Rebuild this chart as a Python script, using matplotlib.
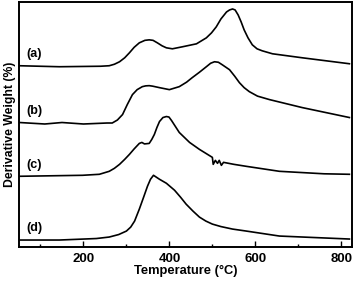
import matplotlib
matplotlib.use("Agg")
import matplotlib.pyplot as plt
from matplotlib.ticker import MultipleLocator

# Temperature (°C) and offset derivative weight (arbitrary units) for each trace
temp_a = [51, 144, 240, 260, 272, 284, 296, 307, 318, 330, 343, 353, 362, 372, 383, 393, 407, 430, 463, 486,
          498, 509, 520, 533, 540, 547, 553, 560, 567, 574, 583, 593, 604, 616, 640, 709, 819]
val_a  = [182, 181, 181.5, 182, 183.5, 186, 190, 195, 200.5, 205, 207.5, 208, 207.5, 205, 202, 200, 199, 201, 204, 210,
          215, 221, 229, 236, 238, 239, 238, 233, 226, 218, 210, 203, 199, 197, 194, 190, 184]

temp_b = [51, 110, 150, 200, 255, 267, 279, 291, 302, 314, 325, 337, 345, 353, 361, 377, 400, 423, 440, 453, 470,
          486, 496, 505, 514, 523, 540, 552, 563, 574, 586, 605, 633, 709, 819]
val_b  = [125, 123.5, 125, 123.5, 124.5, 124.5, 127.5, 133, 143, 153, 158, 161, 161.8, 162, 161.5, 160, 158, 161, 165.5, 170, 175.5,
          181, 184.5, 186, 185.5, 183, 178, 171.5, 165, 160, 156, 151.5, 148, 140, 130]

temp_c = [51, 198, 237, 260, 272, 284, 296, 307, 318, 330, 336, 342, 353, 359, 365, 371, 377, 385, 393, 399, 405, 414, 423, 447, 470, 500,
          502, 507, 512, 516, 521, 526, 550, 579, 656, 760, 819]
val_c  = [71, 72, 73, 76, 79, 83, 88, 93, 98.5, 104, 105, 103.5, 104, 108, 113, 120, 126, 130, 131, 130.5, 127, 121, 115, 105, 98, 90,
          83, 87, 84, 87, 82, 85, 83, 81, 76, 73.5, 73]

temp_d = [51, 144, 230, 260, 282, 300, 310, 319, 330, 340, 349, 356, 363, 370, 377, 393, 412, 426, 439, 455, 470, 485, 500, 520, 547, 579, 656, 819]
val_d  = [7, 7, 8.5, 10, 12.5, 16, 20, 26, 38, 50, 61, 68, 72, 70, 68, 64, 57, 50, 43, 36, 30, 26, 23, 20.5, 18, 16, 11, 8]

labels = ["(a)", "(b)", "(c)", "(d)"]
label_y = [194, 137, 82, 19]

xticks = [200, 400, 600, 800]

plt.rcParams['font.family'] = ['Liberation Sans', 'DejaVu Sans']
plt.rcParams['font.weight'] = 'bold'

fig = plt.figure(figsize=(3.54, 2.81), dpi=100)
ax = fig.add_axes([19/354, 34/281, 333/354, 245/281])

for t, v in [(temp_a, val_a), (temp_b, val_b), (temp_c, val_c), (temp_d, val_d)]:
    ax.plot(t, v, color='black', lw=1.2)

for lab, y in zip(labels, label_y):
    ax.text(68, y, lab, fontsize=9, fontweight='bold', ha='left', va='center')

ax.set_xlim(50, 825)
ax.set_ylim(0, 246)
ax.set_xticks(xticks)
ax.set_xticklabels([str(x) for x in xticks], fontsize=9.5, fontweight='bold')
ax.xaxis.set_minor_locator(MultipleLocator(100))
ax.tick_params(axis='x', which='major', direction='in', length=4, width=1, pad=4)
ax.tick_params(axis='x', which='minor', direction='in', length=2.5, width=1)
ax.set_yticks([])
for s in ax.spines.values():
    s.set_linewidth(1.4)

ax.set_xlabel('Temperature (°C)', fontsize=9.3, fontweight='bold', labelpad=0)
ax.set_ylabel('Derivative Weight (%)', fontsize=8.8, fontweight='bold', labelpad=2)

fig.savefig('out.png', dpi=100)
